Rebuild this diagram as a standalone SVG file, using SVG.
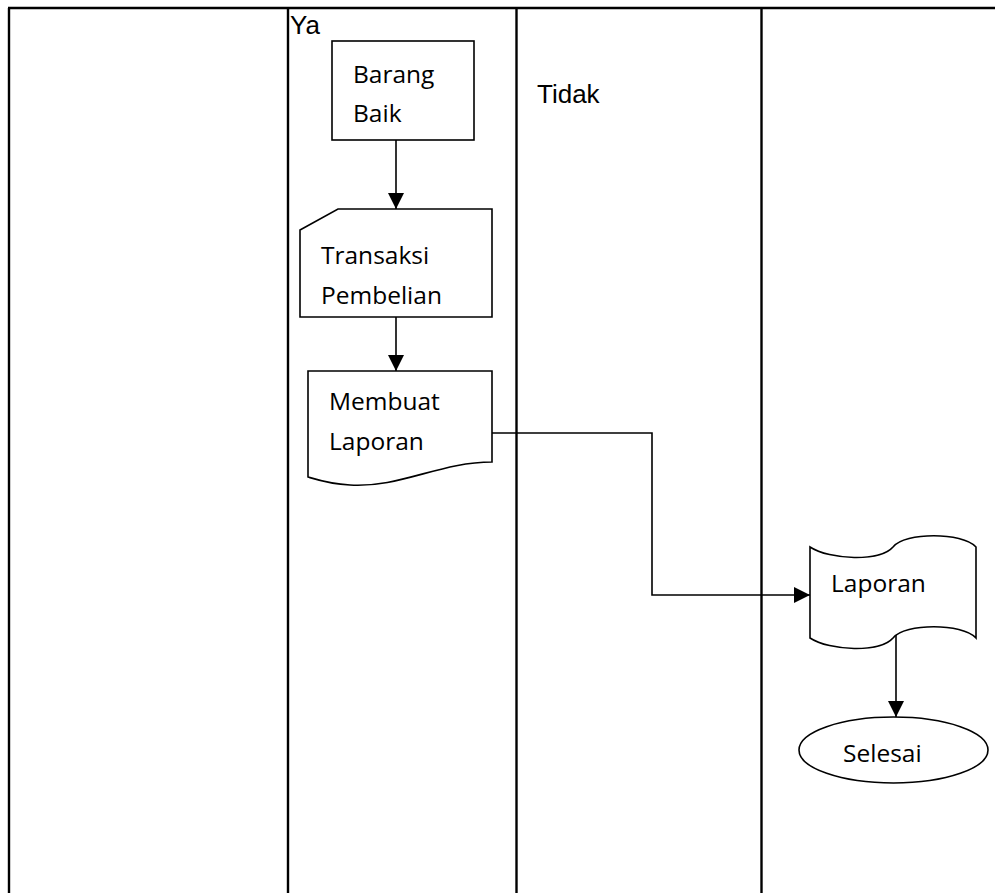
<svg xmlns="http://www.w3.org/2000/svg" width="995" height="893" viewBox="0 0 995 893">
  <defs>
    <marker id="arrow" viewBox="0 0 10 10" refX="10" refY="5" markerWidth="16" markerHeight="16" markerUnits="userSpaceOnUse" orient="auto">
      <path d="M0,0 L10,5 L0,10 z" fill="#000"/>
    </marker>
    <style>
      .lane { stroke: #000; stroke-width: 2.4; fill: none; }
      .shape { stroke: #000; stroke-width: 1.6; fill: #fff; }
      .conn { stroke: #000; stroke-width: 1.6; fill: none; }
      .lbl { font-family: "Open Sans", "Noto Sans", "Liberation Sans", sans-serif; font-size: 24.5px; fill: #000; }
      .head { font-family: "Liberation Sans", Arial, sans-serif; font-size: 26px; fill: #000; }
    </style>
  </defs>
  <rect width="995" height="893" fill="#fff"/>

  <!-- swimlane grid -->
  <g id="lanes">
    <line class="lane" x1="8" y1="8" x2="995" y2="8"/>
    <line class="lane" x1="9" y1="8" x2="9" y2="893"/>
    <line class="lane" x1="288" y1="8" x2="288" y2="893"/>
    <line class="lane" x1="516.5" y1="8" x2="516.5" y2="893"/>
    <line class="lane" x1="761.5" y1="8" x2="761.5" y2="893"/>
  </g>

  <text class="head" x="290" y="34">Ya</text>
  <text class="head" x="537" y="103">Tidak</text>

  <!-- connectors -->
  <g id="connectors">
    <line class="conn" x1="396" y1="140" x2="396" y2="209" marker-end="url(#arrow)"/>
    <line class="conn" x1="396" y1="317" x2="396" y2="371" marker-end="url(#arrow)"/>
    <polyline class="conn" points="492,433 652,433 652,595 810,595" marker-end="url(#arrow)"/>
    <line class="conn" x1="896" y1="632" x2="896" y2="717" marker-end="url(#arrow)"/>
  </g>

  <g id="barang-baik">
    <rect class="shape" x="332" y="41" width="142" height="99"/>
    <text class="lbl" x="353" y="83">Barang</text>
    <text class="lbl" x="353" y="122">Baik</text>
  </g>

  <g id="transaksi-pembelian">
    <path class="shape" d="M300,230 L338,209 L492,209 L492,317 L300,317 Z"/>
    <text class="lbl" x="321" y="264">Transaksi</text>
    <text class="lbl" x="321" y="304">Pembelian</text>
  </g>

  <g id="membuat-laporan">
    <path class="shape" d="M308,371 L492,371 L492,462 C440,462 400,488 350,485 C330,484 318,480 308,477 Z"/>
    <text class="lbl" x="329" y="410">Membuat</text>
    <text class="lbl" x="329" y="450">Laporan</text>
  </g>

  <g id="laporan">
    <path class="shape" d="M810,547 C830,560 880,562 893,547 C905,532 962,532 976,547 L976,638 C962,623 905,623 893,638 C880,653 830,651 810,638 Z"/>
    <text class="lbl" x="831" y="592">Laporan</text>
  </g>

  <g id="selesai">
    <ellipse class="shape" cx="893.5" cy="750" rx="94.5" ry="33"/>
    <text class="lbl" x="843" y="762">Selesai</text>
  </g>
</svg>
